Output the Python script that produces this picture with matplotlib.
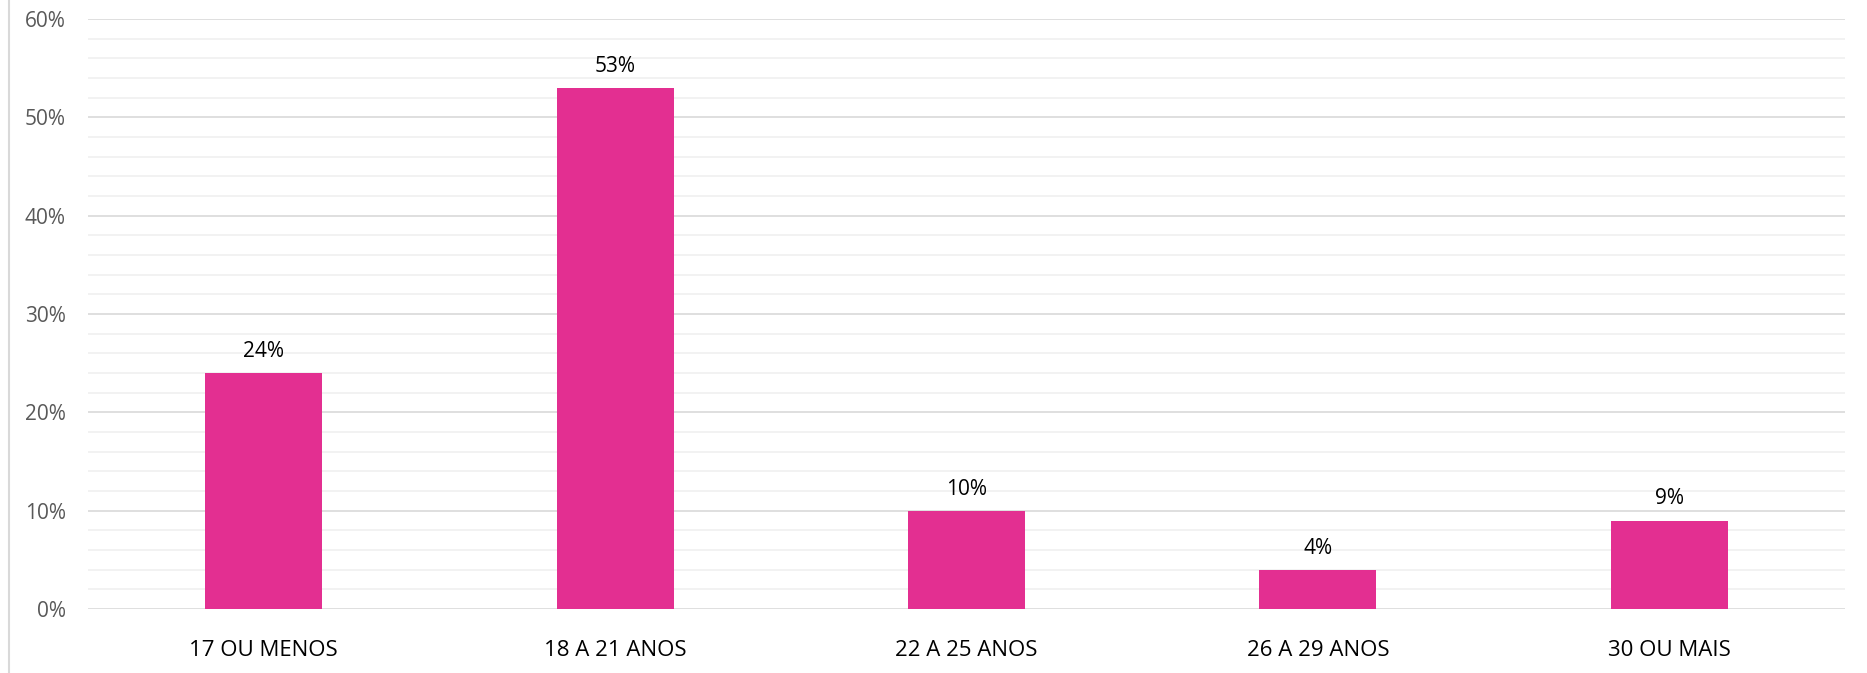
import matplotlib
matplotlib.use("Agg")
import matplotlib.pyplot as plt
import numpy as np
from matplotlib.lines import Line2D

categories = ["17 OU MENOS", "18 A 21 ANOS", "22 A 25 ANOS", "26 A 29 ANOS", "30 OU MAIS"]
values = [24, 53, 10, 4, 9]
yticks = [0, 10, 20, 30, 40, 50, 60]

plt.rcParams['font.family'] = ['Open Sans', 'DejaVu Sans']

fig = plt.figure(figsize=(18.67, 6.73), dpi=100)
ax = fig.add_axes([88 / 1867, 1 - 609 / 673, (1845 - 88) / 1867, (609 - 19) / 673])

x = np.arange(len(categories))
ax.bar(x, values, width=0.333, color='#E32F91', zorder=3)

for xi, v in zip(x, values):
    ax.annotate("%d%%" % v, (xi, v), xytext=(0, 8), textcoords='offset points',
                ha='center', va='bottom', fontsize=15, color='#000000')

ax.set_xlim(-0.5, len(categories) - 0.5)
ax.set_ylim(0, 60)
ax.set_yticks(yticks)
ax.set_yticklabels(["%d%%" % t for t in yticks], fontsize=15, color='#595959')
ax.set_yticks(np.arange(0, 61, 2), minor=True)
ax.set_xticks(x)
ax.set_xticklabels(categories, fontsize=16, color='#000000')

ax.grid(axis='y', which='minor', color='#f0f0f0', linewidth=1.2, zorder=0)
ax.grid(axis='y', which='major', color='#d9d9d9', linewidth=1.2, zorder=1)
ax.tick_params(axis='both', which='both', length=0)
ax.tick_params(axis='y', pad=16)
ax.tick_params(axis='x', pad=22)
for s in ax.spines.values():
    s.set_visible(False)

# left border of the chart frame
fig.add_artist(Line2D([9 / 1867, 9 / 1867], [0, 1], color='#d9d9d9', linewidth=1.5))

fig.savefig("out.png", dpi=100)
